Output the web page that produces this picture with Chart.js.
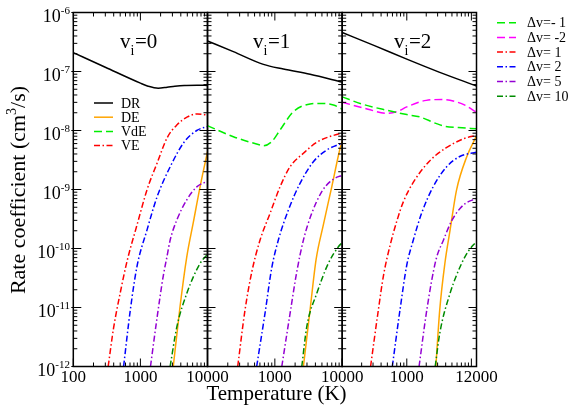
<!DOCTYPE html>
<html><head><meta charset="utf-8">
<script src="https://cdn.jsdelivr.net/npm/chart.js@4.4.1/dist/chart.umd.min.js"></script>
<style>
html,body{margin:0;padding:0;background:#fff;}
#wrap{position:relative;width:570px;height:410px;overflow:hidden;background:#fff;}
#wrap canvas{position:absolute;left:0;top:0;}
</style></head><body>
<div id="wrap">
<canvas id="p0" width="570" height="410"></canvas>
<canvas id="p1" width="570" height="410"></canvas>
<canvas id="p2" width="570" height="410"></canvas>
</div>
<script>
// ---------- DATA: [Temperature (K), rate coefficient (cm^3/s)] ----------
// Panel v_i = 0
const DR_0   = [[100,2.09e-7],[300,1.18e-7],[1000,6.34e-8],[1300,5.64e-8],[1840,5.21e-8],[2500,5.4e-8],[3260,5.62e-8],[4500,5.8e-8],[7000,5.85e-8],[10000,5.8e-8]];
const DE_0   = [[3090,1e-12],[3890,1.02e-11],[4898,7.08e-11],[6166,2.82e-10],[7762,1.12e-9],[10000,4.37e-9]];
const dv1_0  = [[331,1e-12],[398,4.47e-12],[501,1.78e-11],[631,6.03e-11],[891,2.51e-10],[1259,1.0e-9],[1778,2.82e-9],[2512,7.59e-9],[3548,1.26e-8],[5012,1.70e-8],[7079,1.91e-8],[10000,1.82e-8]];
const dv2_0  = [[562,1e-12],[708,9.12e-12],[891,5.01e-11],[1259,2.09e-10],[1778,7.59e-10],[2818,2.51e-9],[4467,6.31e-9],[6918,1.0e-8],[10000,1.17e-8]];
const dv5_0  = [[1413,1e-12],[1758,6.31e-12],[2203,3.55e-11],[2477,7.08e-11],[2773,1.38e-10],[3491,3.04e-10],[4898,6.64e-10],[6918,1.11e-9],[10000,1.38e-9]];
const dv10_0 = [[2773,1e-12],[3491,4.68e-12],[4920,1.74e-11],[7780,5.62e-11],[10000,7.94e-11]];
// Panel v_i = 1
const DR_1   = [[100,3.29e-7],[242,2.17e-7],[676,1.32e-7],[1337,1.10e-7],[3334,8.95e-8],[10000,6.61e-8]];
const DE_1   = [[2655,1e-12],[3334,9.12e-12],[4093,6.46e-11],[5248,2.51e-10],[6998,1.11e-9],[9311,5.01e-9],[10000,6.61e-9]];
const dvm1_1 = [[100,1.21e-8],[242,7.85e-9],[603,5.68e-9],[676,5.50e-9],[899,6.46e-9],[1194,1.02e-8],[1884,2.08e-8],[3334,2.82e-8],[4699,2.88e-8],[7413,2.70e-8],[10000,2.31e-8]];
const dv1_1  = [[281,1e-12],[361,9.12e-12],[454,3.98e-11],[603,1.39e-10],[849,3.95e-10],[1194,1.11e-9],[1683,2.43e-9],[2655,4.11e-9],[4198,6.31e-9],[8790,8.71e-9],[10000,8.91e-9]];
const dv2_1  = [[537,1e-12],[714,7.94e-12],[899,4.68e-11],[1127,1.39e-10],[1589,4.50e-10],[2366,1.27e-9],[3733,2.95e-9],[5902,4.68e-9],[8790,5.75e-9],[10000,6.03e-9]];
const dv5_1  = [[1268,1e-12],[1683,7.94e-12],[2113,3.98e-11],[2655,1.39e-10],[3532,3.95e-10],[4977,9.18e-10],[6607,1.36e-9],[8790,1.65e-9],[10000,1.70e-9]];
const dv10_1 = [[2512,1e-12],[2979,4.73e-12],[4198,1.74e-11],[6237,5.62e-11],[8790,1.07e-10],[10000,1.26e-10]];
// Panel v_i = 2
const DR_2   = [[100,4.57e-7],[316,2.75e-7],[1000,1.62e-7],[3162,9.77e-8],[12000,5.69e-8]];
const DE_2   = [[2818,1e-12],[3236,9.12e-12],[3890,5.62e-11],[4677,2.04e-10],[5888,9.77e-10],[8511,3.63e-9],[12000,8.13e-9]];
const dvm1_2 = [[100,3.72e-8],[200,2.82e-8],[501,2.19e-8],[1000,1.86e-8],[1585,1.70e-8],[2818,1.32e-8],[3981,1.17e-8],[6310,1.12e-8],[12000,1.07e-8]];
const dvm2_2 = [[100,3.02e-8],[251,2.29e-8],[501,1.95e-8],[708,2.09e-8],[1000,2.51e-8],[1995,3.24e-8],[3548,3.35e-8],[5623,3.09e-8],[7943,2.69e-8],[12000,2.04e-8]];
const dv1_2  = [[275,1e-12],[363,9.12e-12],[437,3.55e-11],[550,1.12e-10],[708,3.02e-10],[891,6.31e-10],[1259,1.32e-9],[2239,3.02e-9],[3981,5.01e-9],[7586,7.24e-9],[12000,8.32e-9]];
const dv2_2  = [[597,1e-12],[785,9.12e-12],[1000,5.25e-11],[1259,1.38e-10],[1698,3.98e-10],[2570,1.12e-9],[4169,2.45e-9],[6607,3.63e-9],[12000,4.27e-9]];
const dv5_2  = [[1549,1e-12],[2042,9.12e-12],[2818,6.31e-11],[3715,1.41e-10],[5012,3.02e-10],[7586,5.50e-10],[12000,7.08e-10]];
const dv10_2 = [[2754,1e-12],[3236,3.63e-12],[4677,1.74e-11],[7079,5.62e-11],[8913,8.91e-11],[12000,1.32e-10]];

// Tick labels
const yTickValues = [1e-12,1e-11,1e-10,1e-9,1e-8,1e-7,1e-6];
const yTickExps   = ['-12','-11','-10','-9','-8','-7','-6'];
const xTickValues = [[100,1000,10000],[1000,10000],[1000,12000]];
const xTickLabels = [['100','1000','10000'],['1000','10000'],['1000','12000']];
const xMax        = [10000,10000,12000];
const panelNames  = ['0','1','2'];
const legendLeft  = ['DR','DE','VdE','VE'];
const legendRight = ['\u0394v=- 1','\u0394v= -2','\u0394v= 1','\u0394v= 2','\u0394v= 5','\u0394v= 10'];

// ---------- STYLE ----------
const SERIF = '"Liberation Serif","Times New Roman",serif';
const C = {dr:'#000000', de:'#ffa500', m1:'#00ee00', m2:'#ff00ff', d1:'#ff0000', d2:'#0000ff', d5:'#9400d3', d10:'#008b00'};
const DASH = [8,4], DOT = [6,2.5,1.5,2.5];

function ds(arr, color, dash, w) {
  return { data: arr.map(p => ({x:p[0], y:p[1]})), borderColor: color, borderDash: dash || [],
           borderWidth: w || 1.5, pointRadius: 0, fill: false, cubicInterpolationMode: 'monotone' };
}

const panelData = [
  [ds(DR_0,C.dr), ds(dv1_0,C.d1,DOT), ds(dv2_0,C.d2,DOT), ds(dv5_0,C.d5,DOT), ds(dv10_0,C.d10,DOT), ds(DE_0,C.de)],
  [ds(DR_1,C.dr), ds(dvm1_1,C.m1,DASH), ds(dv1_1,C.d1,DOT), ds(dv2_1,C.d2,DOT), ds(dv5_1,C.d5,DOT), ds(dv10_1,C.d10,DOT), ds(DE_1,C.de)],
  [ds(DR_2,C.dr), ds(dvm1_2,C.m1,DASH), ds(dvm2_2,C.m2,DASH), ds(dv1_2,C.d1,DOT), ds(dv2_2,C.d2,DOT), ds(dv5_2,C.d5,DOT), ds(dv10_2,C.d10,DOT), ds(DE_2,C.de)]
];

const AREAS = [{l:73.3, r:207.5}, {l:207.5, r:342.2}, {l:342.2, r:476.5}];
const TOP = 12.5, BOTTOM = 366.5;

function legendRow(ctx, x0, x1, y, color, dash, label, tx) {
  ctx.save();
  ctx.strokeStyle = color; ctx.lineWidth = 1.5; ctx.setLineDash(dash);
  ctx.beginPath(); ctx.moveTo(x0, y); ctx.lineTo(x1, y); ctx.stroke();
  ctx.restore();
  ctx.fillStyle = '#000'; ctx.font = '14px ' + SERIF; ctx.textAlign = 'left'; ctx.textBaseline = 'alphabetic';
  ctx.fillText(label, tx, y + 4.5);
}

function makePlugin(idx) {
  return {
    id: 'frame' + idx,
    afterDatasetsDraw(chart) {
      const ctx = chart.ctx, a = chart.chartArea, x = chart.scales.x, y = chart.scales.y;
      ctx.save();
      ctx.strokeStyle = '#000'; ctx.lineWidth = 1; ctx.setLineDash([]);
      ctx.beginPath();
      for (let e = -12; e <= -6; e++) {
        for (let m = 1; m <= 9; m++) {
          if (e === -6 && m > 1) break;
          const py = y.getPixelForValue(m * Math.pow(10, e));
          const len = m === 1 ? 8 : 4;
          ctx.moveTo(a.left, py); ctx.lineTo(a.left + len, py);
          ctx.moveTo(a.right, py); ctx.lineTo(a.right - len, py);
          if (idx === 0 && m === 1) { ctx.moveTo(a.left - 2, py); ctx.lineTo(a.left, py); }
        }
      }
      for (let k = 2; k <= 4; k++) {
        for (let m = 1; m <= 9; m++) {
          const v = m * Math.pow(10, k);
          if (v > xMax[idx]) break;
          const px = x.getPixelForValue(v);
          const len = m === 1 ? 8 : 4;
          ctx.moveTo(px, a.top); ctx.lineTo(px, a.top + len);
          ctx.moveTo(px, a.bottom); ctx.lineTo(px, a.bottom - len);
        }
      }
      ctx.stroke();
      ctx.lineWidth = 1.5;
      ctx.strokeRect(a.left, a.top, a.right - a.left, a.bottom - a.top);
      ctx.fillStyle = '#000'; ctx.textBaseline = 'alphabetic';
      ctx.font = '17px ' + SERIF; ctx.textAlign = 'center';
      xTickValues[idx].forEach((v, i) => ctx.fillText(xTickLabels[idx][i], x.getPixelForValue(v), 382));
      const lx = [120, 253, 394][idx];
      ctx.textAlign = 'left';
      ctx.font = '21px ' + SERIF; ctx.fillText('v', lx, 47.5);
      let w = ctx.measureText('v').width;
      ctx.font = '14px ' + SERIF; ctx.fillText('i', lx + w, 54.5);
      w += ctx.measureText('i').width;
      ctx.font = '21px ' + SERIF; ctx.fillText('=' + panelNames[idx], lx + w + 0.5, 47.5);

      if (idx === 0) {
        yTickValues.forEach((v, i) => {
          const py = y.getPixelForValue(v);
          ctx.textAlign = 'right';
          ctx.font = '11px ' + SERIF;
          const ew = ctx.measureText(yTickExps[i]).width;
          ctx.fillText(yTickExps[i], 70, py + 1.5);
          ctx.font = '18px ' + SERIF;
          ctx.fillText('10', 70 - ew, py + 9.5);
        });
        ctx.textAlign = 'center'; ctx.font = '21px ' + SERIF;
        ctx.fillText('Temperature (K)', 276.5, 400);
        ctx.save();
        ctx.translate(25, 190); ctx.rotate(-Math.PI / 2);
        ctx.textAlign = 'left';
        ctx.font = '22px ' + SERIF;
        const s1 = 'Rate coefficient (cm', s2 = '/s)';
        const w1 = ctx.measureText(s1).width, w2 = ctx.measureText(s2).width;
        ctx.font = '14px ' + SERIF;
        const w3 = ctx.measureText('3').width;
        const x0 = -(w1 + w2 + w3) / 2;
        ctx.font = '22px ' + SERIF;
        ctx.fillText(s1, x0, 0);
        ctx.fillText(s2, x0 + w1 + w3, 0);
        ctx.font = '14px ' + SERIF;
        ctx.fillText('3', x0 + w1, -9);
        ctx.restore();
        const lc = [C.dr, C.de, C.m1, C.d1], ld = [[], [], DASH, DOT];
        legendLeft.forEach((s, i) => legendRow(ctx, 94, 113, 103 + i * 14.2, lc[i], ld[i], s, 121));
        const rc = [C.m1, C.m2, C.d1, C.d2, C.d5, C.d10], rd = [DASH, DASH, DOT, DOT, DOT, DOT];
        legendRight.forEach((s, i) => legendRow(ctx, 497, 516, 22.7 + i * 14.7, rc[i], rd[i], s, 527));
      }
      ctx.restore();
    }
  };
}

[0, 1, 2].forEach(idx => {
  const A = AREAS[idx];
  new Chart(document.getElementById('p' + idx), {
    type: 'line',
    data: { datasets: panelData[idx] },
    options: {
      responsive: false, animation: false, devicePixelRatio: 1,
      layout: { padding: { left: A.l, right: 570 - A.r, top: TOP, bottom: 410 - BOTTOM } },
      plugins: { legend: { display: false }, tooltip: { enabled: false } },
      scales: {
        x: { type: 'logarithmic', min: 100, max: xMax[idx], display: false },
        y: { type: 'logarithmic', min: 1e-12, max: 1e-6, display: false }
      }
    },
    plugins: [makePlugin(idx)]
  });
});
</script>
</body></html>
